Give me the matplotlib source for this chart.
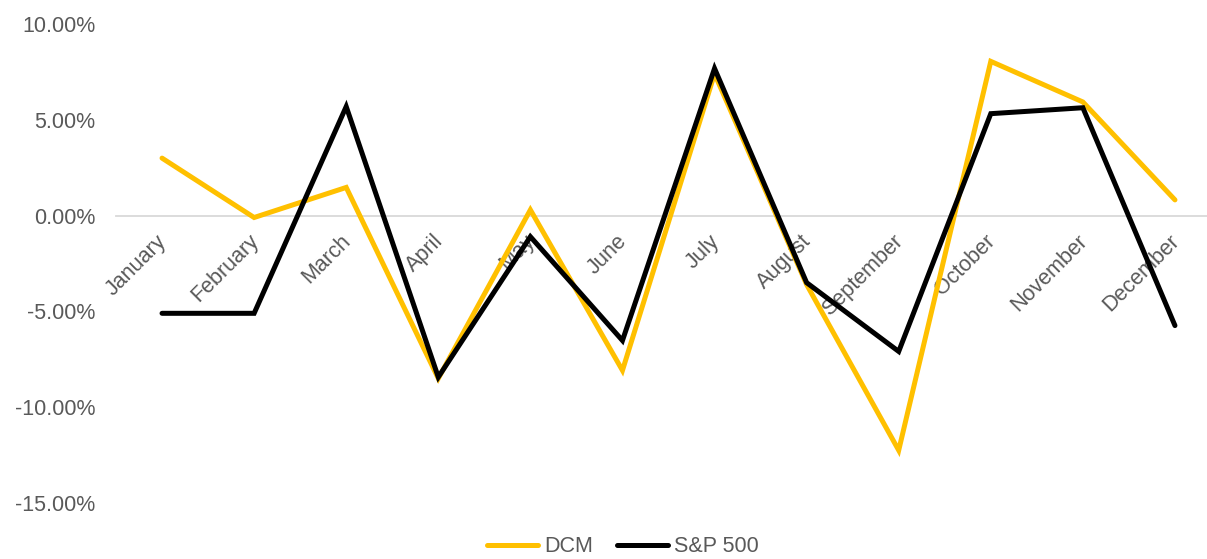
import numpy as np
import matplotlib.pyplot as plt
import matplotlib.transforms as mtransforms
from matplotlib.ticker import FuncFormatter

months = ["January", "February", "March", "April", "May", "June", "July",
          "August", "September", "October", "November", "December"]
dcm = [3.0, -0.1, 1.47, -8.5, 0.3, -8.08, 7.4, -3.6, -12.25, 8.05, 5.93, 0.82]
sp500 = [-5.1, -5.1, 5.69, -8.43, -1.1, -6.52, 7.68, -3.5, -7.09, 5.32, 5.63, -5.74]
y_ticks = [-15, -10, -5, 0, 5, 10]

plt.rcParams["font.family"] = ["Liberation Sans", "DejaVu Sans"]
grey = "#595959"
fs = 15.5

W, H = 1207, 559
fig = plt.figure(figsize=(W / 100, H / 100), dpi=100)
left, right = 116, 1221
top, bottom = 24, 503
ax = fig.add_axes([left / W, (H - bottom) / H, (right - left) / W, (bottom - top) / H])

x = np.arange(len(months))
ax.plot(x, dcm, color="#FFC000", lw=3.6, solid_joinstyle="miter", solid_capstyle="round", label="DCM")
ax.plot(x, sp500, color="black", lw=3.6, solid_joinstyle="miter", solid_capstyle="round", label="S&P 500")

ax.set_xlim(-0.5, len(months) - 0.5)
ax.set_ylim(-15, 10)
ax.set_yticks(y_ticks)
ax.yaxis.set_major_formatter(FuncFormatter(lambda v, p: f"{v:.2f}%"))
ax.tick_params(axis="y", length=0, pad=15, labelsize=fs, labelcolor=grey)

for s in ["top", "right", "left"]:
    ax.spines[s].set_visible(False)
ax.spines["bottom"].set_position(("data", 0))
ax.spines["bottom"].set_color("#d9d9d9")
ax.spines["bottom"].set_linewidth(1.3)
ax.spines["bottom"].set_zorder(0)

ax.set_xticks(x)
ax.set_xticklabels(months, rotation=45, ha="right", va="top", rotation_mode="anchor")
ax.tick_params(axis="x", length=0, pad=8, labelsize=fs, labelcolor=grey)
shift = mtransforms.ScaledTranslation(-6 / 100, -4 / 100, fig.dpi_scale_trans)
for lbl in ax.get_xticklabels():
    lbl.set_transform(lbl.get_transform() + shift)

leg = fig.legend(loc="center", bbox_to_anchor=(623 / W, 1 - 547 / H),
                 ncol=2, frameon=False, fontsize=fs, handlelength=2.37, columnspacing=1.1,
                 handletextpad=0.3, borderpad=0, borderaxespad=0)
for t in leg.get_texts():
    t.set_color(grey)

fig.savefig("out.png", dpi=100)
